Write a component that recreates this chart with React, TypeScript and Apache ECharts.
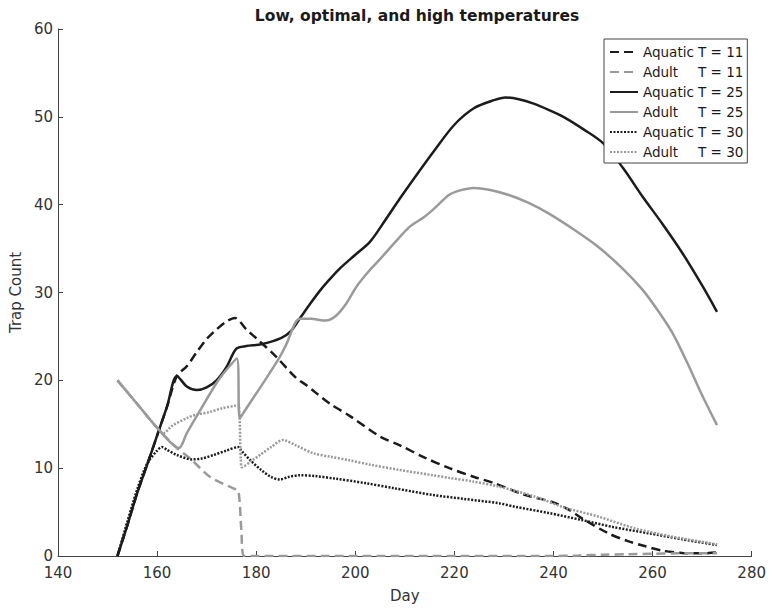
import React, { useEffect, useRef } from "react";
import * as echarts from "echarts";

const xTicks = { min: 140, max: 280, interval: 20 };
const yTicks = { min: 0, max: 60, interval: 10 };

const aquatic11Days = [152, 154, 156, 158, 160, 162, 164, 166, 168, 170, 172, 174, 175.7, 178, 180, 184, 188, 190, 192, 195, 199, 205, 209, 214, 219, 224, 228, 234, 240, 243, 246, 251, 255, 258, 262, 266, 270, 273];
const aquatic11 = [0, 3.5, 7.2, 10.4, 13.7, 17, 20.5, 21.6, 23.2, 24.7, 25.8, 26.7, 27.1, 25.8, 24.8, 22.7, 20.3, 19.5, 18.6, 17.3, 15.9, 13.6, 12.6, 11.2, 10.0, 9.0, 8.3, 7.0, 6.1, 5.3, 4.2, 2.6, 1.7, 1.2, 0.6, 0.35, 0.3, 0.4];

const adult11Days = [152, 156, 160, 164, 166.7, 170.7, 175.4, 176.4, 177, 177.6, 180, 200, 220, 240, 245, 250, 255, 260, 265, 270, 273];
const adult11 = [20, 17.3, 14.6, 12.3, 11.1, 9.0, 7.7, 7.4, 3, 0, 0, 0, 0, 0, 0.05, 0.15, 0.2, 0.25, 0.3, 0.3, 0.3];

const aquatic25Days = [152, 154, 156, 158, 160, 162, 164, 166, 168, 170, 172, 174, 176, 178, 181, 185, 187, 189, 191, 193, 195, 197, 200, 203, 206, 209, 212, 216, 220, 224, 228, 230.3, 233, 236, 239, 242, 246, 250, 254, 258, 262, 266, 270, 273];
const aquatic25 = [0, 3.5, 7.2, 10.4, 13.7, 17, 20.5, 19.3, 18.9, 19.2, 20, 21.5, 23.6, 23.9, 24.1, 24.8, 25.6, 27.2, 28.8, 30.3, 31.6, 32.8, 34.3, 35.8, 38.2, 40.7, 43.1, 46.2, 49.1, 51.0, 51.9, 52.2, 52.0, 51.5, 50.8, 50.0, 48.6, 47.0, 44.2, 40.9, 37.8, 34.5, 30.8, 27.8];

const adult25Days = [152, 156, 160, 164.4, 166, 168.7, 172, 174, 176.1, 176.7, 178, 180, 182, 184.8, 186, 188.8, 191, 194, 196, 198, 200.4, 203, 205, 208, 211, 213.9, 216, 218.9, 221, 223.9, 227, 231, 235, 239, 244, 249, 254, 258, 261, 264, 267, 270, 273];
const adult25 = [20, 17.3, 14.6, 12.3, 14.0, 16.6, 19.7, 21.2, 22.5, 15.7, 16.8, 18.5, 20.2, 22.7, 24.0, 27.0, 27.0, 26.8, 27.3, 28.6, 30.8, 32.6, 33.8, 35.7, 37.5, 38.6, 39.6, 41.1, 41.6, 41.9, 41.7, 41.1, 40.2, 39.0, 37.2, 35.2, 32.7, 30.3, 28.0, 25.4, 22.0, 18.3, 14.9];

const aquatic30Days = [152, 154, 156, 158, 160, 161, 162, 164, 167, 169, 171.4, 174, 176.4, 177, 179, 181, 183, 184.8, 186.5, 188.8, 192, 196, 202, 208, 215.6, 222, 229, 232.3, 239, 245.7, 252, 259.1, 266, 273];
const aquatic30 = [0, 3.9, 7.6, 10.5, 12.0, 12.4, 12.1, 11.5, 11.0, 11.1, 11.5, 12.0, 12.4, 12.0, 10.8, 9.8, 9.0, 8.7, 9.0, 9.2, 9.1, 8.8, 8.3, 7.7, 6.95, 6.5, 6.0, 5.6, 4.9, 4.1, 3.3, 2.6, 1.9, 1.25];

const adult30Days = [152, 156, 160, 161.3, 163, 166, 168, 170.7, 173, 175.7, 176.4, 176.9, 177.1, 179, 181, 183, 185.4, 188, 191.5, 195, 198.8, 203, 208.9, 215.6, 218.9, 223.6, 229, 236, 242.3, 249, 256.4, 264, 272.5, 273];
const adult30 = [20, 17.3, 14.6, 14.0, 14.8, 15.7, 16.1, 16.4, 16.8, 17.1, 17.2, 11, 10.1, 10.8, 11.6, 12.4, 13.2, 12.6, 11.7, 11.3, 10.9, 10.4, 9.8, 9.2, 8.9, 8.5, 7.9, 6.8, 5.5, 4.5, 3.15, 2.2, 1.37, 1.3];

const seriesNames = [
  "Aquatic T = 11",
  "Adult T = 11",
  "Aquatic T = 25",
  "Adult T = 25",
  "Aquatic T = 30",
  "Adult T = 30",
];

const FONT = "DejaVu Sans";
const BLACK = "#1c1c1c";
const GRAY = "#9a9a9a";

function pairs(xs: number[], ys: number[]) {
  return xs.map((x, i) => [x, ys[i]]);
}

export default function App() {
  const ref = useRef<HTMLDivElement>(null);
  useEffect(() => {
    if (!ref.current) return;
    const chart = echarts.init(ref.current, null, { renderer: "svg" });
    const styles: any[] = [
      { color: BLACK, type: [9, 5] },
      { color: GRAY, type: [9, 5] },
      { color: BLACK, type: "solid" },
      { color: GRAY, type: "solid" },
      { color: BLACK, type: [2, 1.5] },
      { color: GRAY, type: [2, 1.5] },
    ];
    const datas = [
      pairs(aquatic11Days, aquatic11),
      pairs(adult11Days, adult11),
      pairs(aquatic25Days, aquatic25),
      pairs(adult25Days, adult25),
      pairs(aquatic30Days, aquatic30),
      pairs(adult30Days, adult30),
    ];
    chart.setOption({
      animation: false,
      backgroundColor: "#ffffff",
      title: {
        text: "Low, optimal, and high temperatures",
        left: 412,
        top: 3,
        textAlign: "center",
        textStyle: { fontFamily: FONT, fontSize: 15.5, fontWeight: "bold", color: "#1a1a1a" },
      },
      grid: { left: 57, right: 15, top: 29, bottom: 55, containLabel: false },
      xAxis: {
        type: "value",
        min: xTicks.min,
        max: xTicks.max,
        interval: xTicks.interval,
        name: "Day",
        nameLocation: "middle",
        nameGap: 32,
        nameTextStyle: { fontFamily: FONT, fontSize: 15, color: "#333" },
        axisLine: { lineStyle: { color: "#444", width: 1 } },
        axisTick: { inside: true, length: 5, lineStyle: { color: "#444" } },
        axisLabel: { fontFamily: FONT, fontSize: 15, color: "#333", margin: 9 },
        splitLine: { show: false },
      },
      yAxis: {
        type: "value",
        min: yTicks.min,
        max: yTicks.max,
        interval: yTicks.interval,
        name: "Trap Count",
        nameLocation: "middle",
        nameGap: 24,
        nameTextStyle: { fontFamily: FONT, fontSize: 15, color: "#333" },
        axisLine: { show: true, lineStyle: { color: "#444", width: 1 } },
        axisTick: { show: true, inside: true, length: 5, lineStyle: { color: "#444" } },
        axisLabel: { fontFamily: FONT, fontSize: 15, color: "#333", margin: 5 },
        splitLine: { show: false },
      },
      legend: {
        orient: "vertical",
        left: 604,
        top: 39,
        padding: [6, 4, 4, 5],
        itemWidth: 28,
        itemHeight: 14,
        itemGap: 6,
        itemTextGap: 3,
        backgroundColor: "#ffffff",
        borderColor: "#444",
        borderWidth: 1,
        borderRadius: 0,
        itemStyle: { opacity: 0 },
        data: seriesNames,
        formatter: (name: string) => {
          const idx = name.indexOf(" T = ");
          return `{a|${name.slice(0, idx)}}{b|${name.slice(idx + 1)}}`;
        },
        textStyle: {
          fontFamily: FONT,
          fontSize: 13.5,
          color: "#1a1a1a",
          rich: {
            a: { width: 55, fontFamily: FONT, fontSize: 13.5, color: "#1a1a1a" },
            b: { fontFamily: FONT, fontSize: 13.5, color: "#1a1a1a" },
          },
        },
      },
      series: seriesNames.map((name, i) => ({
        name,
        type: "line",
        data: datas[i],
        showSymbol: false,
        symbol: "none",
        smooth: 0.3,
        color: styles[i].color,
        lineStyle: { color: styles[i].color, type: styles[i].type, width: 2.5 },
        emphasis: { disabled: true },
      })),
    });
    return () => chart.dispose();
  }, []);
  return (
    <div
      ref={ref}
      style={{ position: "fixed", left: 0, top: 0, width: 769, height: 611 }}
    />
  );
}
